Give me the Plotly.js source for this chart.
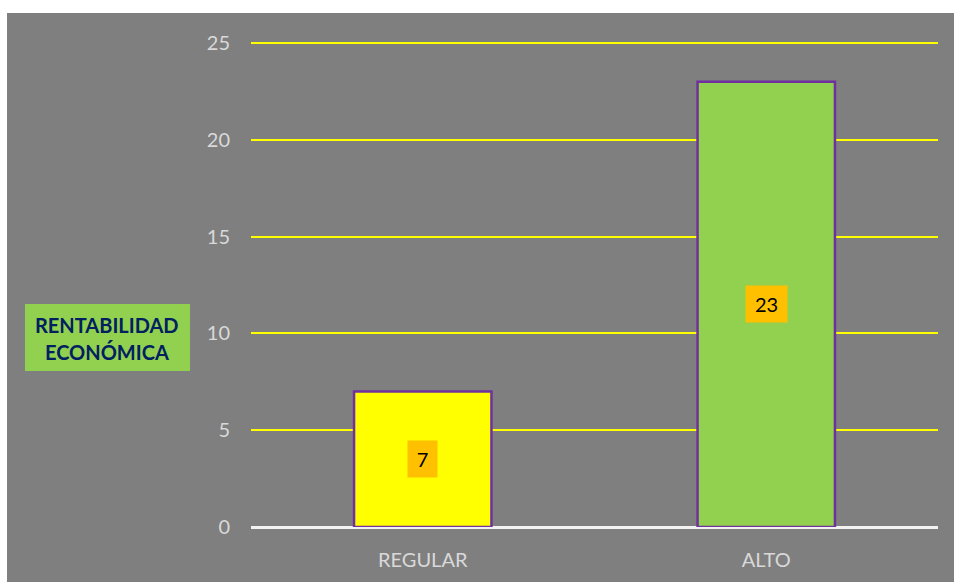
<!DOCTYPE html>
<html><head><meta charset="utf-8">
<script src="https://cdn.plot.ly/plotly-3.0.1.min.js"></script>
<style>html,body{margin:0;padding:0;background:#fff;width:954px;height:582px;overflow:hidden}
#chart{position:absolute;left:7px;top:13px;width:947px;height:569px}</style>
</head><body><div id="chart"></div>
<script>
const categories = ["REGULAR", "ALTO"];
const values = [7, 23];
const barColors = ["#FFFF00", "#92D050"];
const yTicks = [0, 5, 10, 15, 20, 25];
const yTitleLines = ["RENTABILIDAD", "ECONÓMICA"];

const font = "Lato, 'Open Sans', sans-serif";
const trace = {
  type: "bar", x: categories, y: values,
  marker: {color: barColors, line: {color: "#7030A0", width: 2.5}},
  hoverinfo: "none", width: 0.4
};
const annotations = values.map((v, i) => ({
  x: categories[i], y: v / 2, xref: "x", yref: "y",
  text: String(v), showarrow: false,
  font: {family: font, size: 20, color: "#000"},
  bgcolor: "#FFC000", borderpad: 5,
  width: 7 + 12 * String(v).length, height: 26
}));
// plot area: top 28, height 486 (div px)
const titleY = [(514 - 312) / 486, (514 - 339) / 486];
yTitleLines.forEach((t, i) => annotations.push({
  xref: "paper", yref: "paper", x: -0.2089, y: titleY[i], xanchor: "center", yanchor: "middle",
  text: "<b>" + t + "</b>", showarrow: false,
  font: {family: font, size: 20, color: "#002060"}
}));
const layout = {
  width: 947, height: 569,
  margin: {l: 244, r: 16, t: 28, b: 55},
  paper_bgcolor: "#7F7F7F", plot_bgcolor: "#7F7F7F",
  showlegend: false,
  bargap: 0.6,
  xaxis: {
    type: "category", showgrid: false, zeroline: false, showline: false,
    ticks: "", tickfont: {family: font, size: 20, color: "#D9D9D9"},
    ticklabelstandoff: 19
  },
  yaxis: {
    range: [0, 25.1], tickvals: yTicks, showgrid: true, gridcolor: "#FFFF00", gridwidth: 2,
    zeroline: true, zerolinecolor: "#F2F2F2", zerolinewidth: 3,
    ticks: "", tickfont: {family: font, size: 20, color: "#D9D9D9"},
    ticklabelstandoff: 20
  },
  shapes: [{
    type: "rect", xref: "paper", yref: "paper",
    x0: -0.329, x1: -0.0888, y0: (514 - 358) / 486, y1: (514 - 291) / 486,
    fillcolor: "#92D050", line: {width: 0}, layer: "below"
  }],
  annotations: annotations
};
Plotly.newPlot("chart", [trace], layout, {displayModeBar: false, staticPlot: true});
</script></body></html>
